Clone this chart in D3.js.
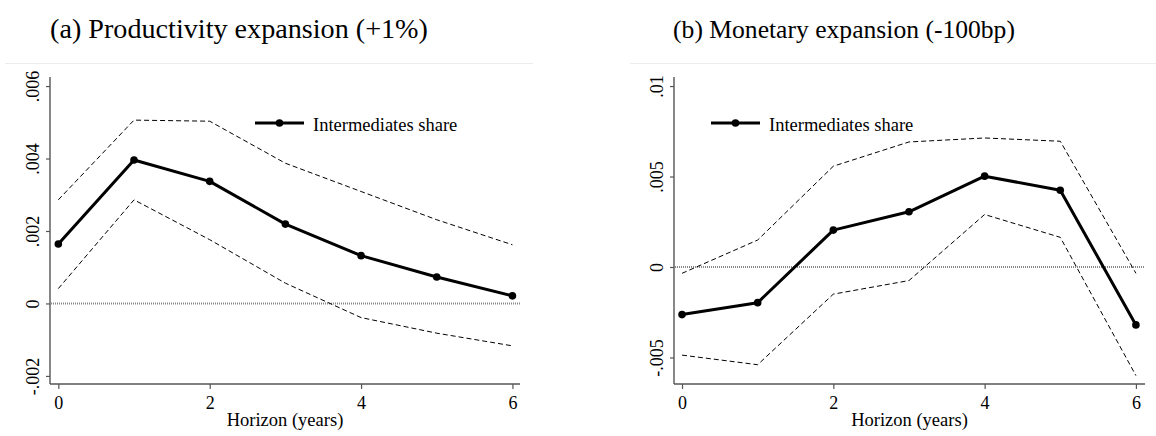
<!DOCTYPE html>
<html><head><meta charset="utf-8">
<script src="https://cdn.jsdelivr.net/npm/d3@7"></script>
<style>
html,body{margin:0;padding:0;background:#fff;}
svg{display:block;}
text{font-family:"Liberation Serif","Times New Roman",serif;fill:#000;}
</style></head>
<body>
<svg id="c" width="1156" height="436"></svg>
<script>
// ---- data ----
const horizons = [0, 1, 2, 3, 4, 5, 6];
const seriesName = "Intermediates share";

const prodTitle = "(a) Productivity expansion (+1%)";
const prodPoint = [0.00164, 0.00396, 0.00337, 0.00219, 0.00132, 0.00073, 0.00021];
const prodUpper = [0.00286, 0.00506, 0.00503, 0.00387, 0.00309, 0.00231, 0.00162];
const prodLower = [0.00041, 0.00286, 0.00176, 0.00056, -0.00039, -0.00082, -0.00117];
const prodYTicks = [-0.002, 0, 0.002, 0.004, 0.006];
const prodYLabels = ["-.002", "0", ".002", ".004", ".006"];

const monTitle = "(b) Monetary expansion (-100bp)";
const monPoint = [-0.00263, -0.00197, 0.00204, 0.00305, 0.00502, 0.00424, -0.0032];
const monUpper = [-0.00035, 0.00149, 0.00557, 0.00691, 0.00713, 0.00695, -0.00035];
const monLower = [-0.00487, -0.0054, -0.0015, -0.00075, 0.0029, 0.00164, -0.0060];
const monYTicks = [-0.005, 0, 0.005, 0.01];
const monYLabels = ["-.005", "0", ".005", ".01"];

const xTicks = [0, 2, 4, 6];
const xLabel = "Horizon (years)";

// ---- layout ----
const svg = d3.select("#c");

const panels = [
  {title: prodTitle, titleX: 239, titleW: 378, sepX: [5, 533],
   left: 50, right: 520, top: 77, bottom: 384,
   xDom: [-0.11, 6.1], yDom: [-0.002223, 0.00625],
   point: prodPoint, upper: prodUpper, lower: prodLower,
   yTicks: prodYTicks, yLabels: prodYLabels,
   legX: 255, legY: 123},
  {title: monTitle, titleX: 844, titleW: 342, sepX: [630, 1156],
   left: 674, right: 1145, top: 77, bottom: 384,
   xDom: [-0.106, 6.12], yDom: [-0.006466, 0.0105],
   point: monPoint, upper: monUpper, lower: monLower,
   yTicks: monYTicks, yLabels: monYLabels,
   legX: 711, legY: 123}
];

panels.forEach(p => {
  const g = svg.append("g");
  // title
  const t = g.append("text").attr("x", p.titleX).attr("y", 38)
    .attr("text-anchor", "middle").style("font-size", "27px").text(p.title);
  const w = t.node().getComputedTextLength();
  t.style("font-size", (27 * p.titleW / w).toFixed(2) + "px");
  // separator
  g.append("line").attr("x1", p.sepX[0]).attr("x2", p.sepX[1])
    .attr("y1", 63.5).attr("y2", 63.5).attr("stroke", "#ececec").attr("stroke-width", 1);

  const x = d3.scaleLinear().domain(p.xDom).range([p.left, p.right]);
  const y = d3.scaleLinear().domain(p.yDom).range([p.bottom, p.top]);

  // zero line
  g.append("line").attr("x1", p.left + 1).attr("x2", p.right)
    .attr("y1", y(0)).attr("y2", y(0))
    .attr("stroke", "#888").attr("stroke-width", 2).attr("stroke-dasharray", "1,1");

  // axes
  const yAxis = d3.axisLeft(y).tickValues(p.yTicks)
    .tickFormat((d, i) => p.yLabels[i]).tickSize(4).tickPadding(6);
  const ya = g.append("g").attr("transform", `translate(${p.left},0)`).call(yAxis)
    .attr("font-family", null).attr("font-size", null);
  ya.select(".domain").attr("stroke", "#555").attr("stroke-width", 1.4)
    .attr("d", `M0,${p.top}V${p.bottom}`);
  ya.selectAll(".tick line").attr("stroke", "#555").attr("stroke-width", 1.2);
  ya.selectAll(".tick text")
    .attr("x", null).attr("dy", null)
    .attr("transform", "translate(-11,0) rotate(-90)")
    .attr("text-anchor", "middle").attr("y", 0)
    .style("font-size", "18px");

  const xAxis = d3.axisBottom(x).tickValues(xTicks).tickFormat(d3.format("d"))
    .tickSize(5).tickPadding(8);
  const xa = g.append("g").attr("transform", `translate(0,${p.bottom})`).call(xAxis)
    .attr("font-family", null).attr("font-size", null);
  xa.select(".domain").attr("stroke", "#555").attr("stroke-width", 1.4)
    .attr("d", `M${p.left},0H${p.right}`);
  xa.selectAll(".tick line").attr("stroke", "#555").attr("stroke-width", 1.2);
  xa.selectAll(".tick text").style("font-size", "18px")
    .attr("dy", "0.71em").attr("y", 12);

  g.append("text").attr("x", (p.left + p.right) / 2).attr("y", 426)
    .attr("text-anchor", "middle").style("font-size", "18.5px").text(xLabel);

  const line = d3.line().x((d, i) => x(horizons[i])).y(d => y(d));

  [p.upper, p.lower].forEach(arr => {
    g.append("path").attr("d", line(arr)).attr("fill", "none")
      .attr("stroke", "#000").attr("stroke-width", 1)
      .attr("stroke-dasharray", "5,3");
  });

  g.append("path").attr("d", line(p.point)).attr("fill", "none")
    .attr("stroke", "#000").attr("stroke-width", 3).attr("stroke-linejoin", "round");
  g.selectAll("circle.pt").data(p.point).enter().append("circle")
    .attr("class", "pt").attr("cx", (d, i) => x(horizons[i])).attr("cy", d => y(d))
    .attr("r", 3.8).attr("fill", "#000");

  // legend
  g.append("line").attr("x1", p.legX).attr("x2", p.legX + 49)
    .attr("y1", p.legY).attr("y2", p.legY).attr("stroke", "#000").attr("stroke-width", 3);
  g.append("circle").attr("cx", p.legX + 24.5).attr("cy", p.legY).attr("r", 3.8).attr("fill", "#000");
  g.append("text").attr("x", p.legX + 58).attr("y", p.legY + 8)
    .style("font-size", "18.5px").text(seriesName);
});
</script>
</body></html>
